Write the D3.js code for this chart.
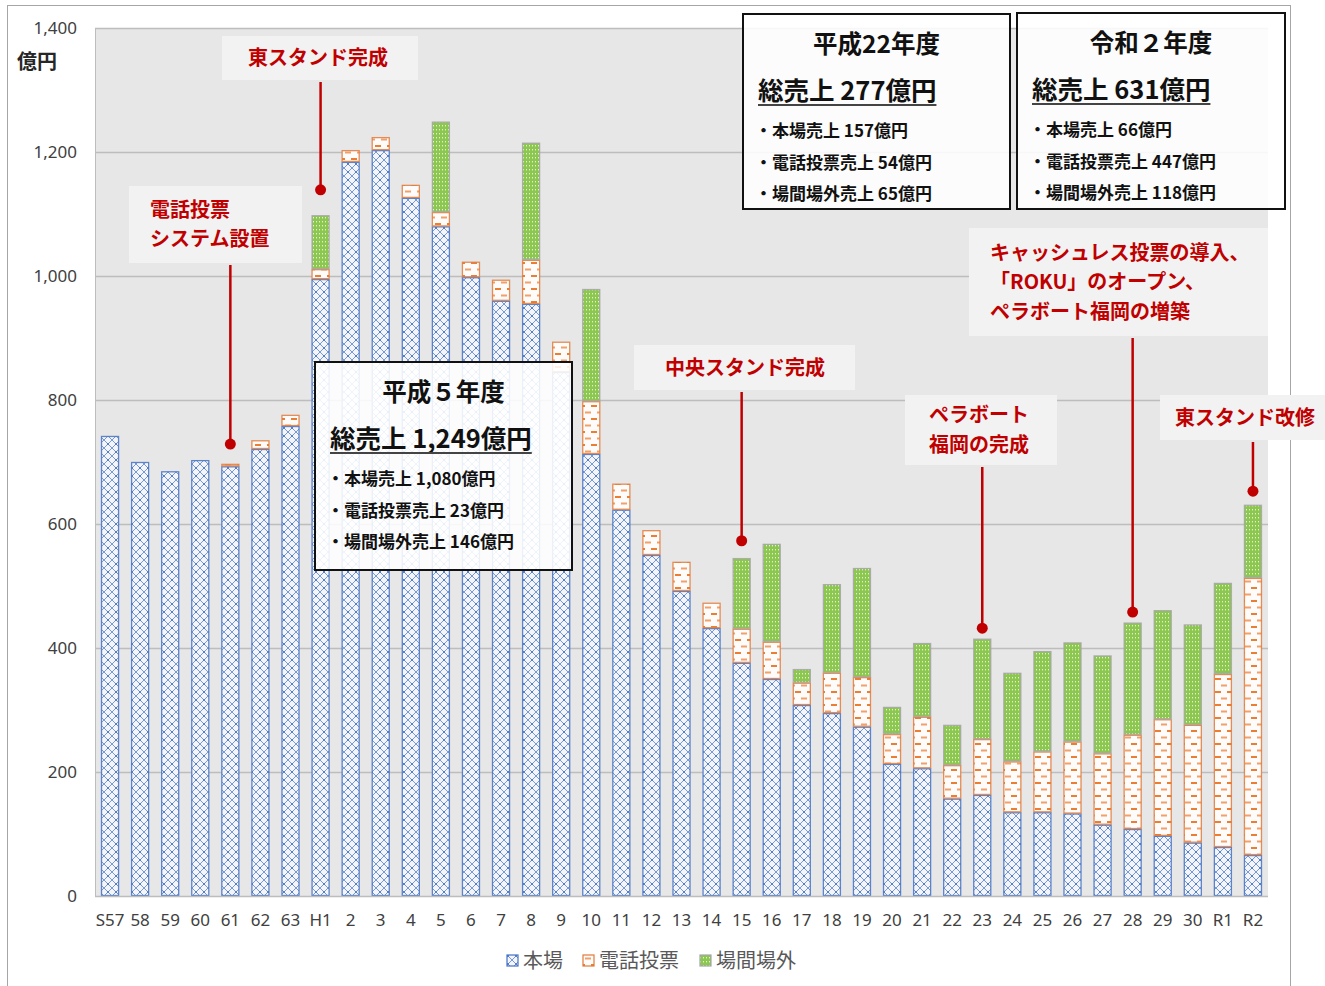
<!DOCTYPE html>
<head>
  <meta charset="utf-8">
  <script src="https://d3js.org/d3.v7.min.js"></script>
  <style>
    body { margin:0; background:#fff; }
    svg { display:block; }
    text { font-family: "Noto Sans CJK JP", "Noto Sans", sans-serif; }
  </style>
</head>

<body>
  <svg width="1325" height="986"></svg>
  <script>
    // 年度
    var categories = ['S57','58','59','60','61','62','63','H1','2','3','4','5','6','7','8','9','10',
      '11','12','13','14','15','16','17','18','19','20','21','22','23','24','25','26','27','28','29','30','R1','R2'];
    var tickLabels = categories.slice();

    // 売上（億円）
    var honjo = [742,700,685,703,693,721,758,995,1184,1203,1126,1080,998,960,955,845,713,
      623,550,492,432,376,350,308,295,273,213,206,157,163,135,135,133,115,108,97,86,79,66];
    var denwa = [0,0,0,0,4,14,18,16,19,21,21,23,25,34,71,49,85,
      42,40,47,41,55,60,36,65,80,48,83,54,90,82,98,116,115,152,188,190,279,447];
    var jogai = [0,0,0,0,0,0,0,87,0,0,0,146,0,0,189,0,181,
      0,0,0,0,114,158,22,143,176,44,119,65,162,143,162,160,158,181,176,162,147,118];

    var seriesNames = ['本場', '電話投票', '場間場外'];
    var yTicks = [0, 200, 400, 600, 800, 1000, 1200, 1400];

    // 出来事の注記（棒の上の点）
    var events = [
      {cat: '61', dot: 729, lines: ['電話投票', 'システム設置'], box: [129,186,173,77], tx: 150, align: 'start'},
      {cat: 'H1', dot: 1139, lines: ['東スタンド完成'], box: [222,36,196,44], tx: 318, align: 'middle'},
      {cat: '15', dot: 573, lines: ['中央スタンド完成'], box: [634,345,221,45], tx: 745, align: 'middle'},
      {cat: '23', dot: 432, lines: ['ペラボート', '福岡の完成'], box: [905,395,152,70], tx: 929, align: 'start'},
      {cat: '28', dot: 458, lines: ['キャッシュレス投票の導入、', '「ROKU」のオープン、', 'ペラボート福岡の増築'], box: [969,228,299,108], tx: 990, align: 'start'},
      {cat: 'R2', dot: 653, lines: ['東スタンド改修'], box: [1160,395,165,45], tx: 1175, align: 'start'}
    ];

    // 年度ごとの内訳ボックス
    var infoBoxes = [
      {title: '平成５年度', total: '総売上 1,249億円', items: ['・本場売上 1,080億円', '・電話投票売上 23億円', '・場間場外売上 146億円'], x: 315, y: 362, w: 257, h: 208},
      {title: '平成22年度', total: '総売上 277億円', items: ['・本場売上 157億円', '・電話投票売上 54億円', '・場間場外売上 65億円'], x: 743, y: 14, w: 267, h: 195},
      {title: '令和２年度', total: '総売上 631億円', items: ['・本場売上 66億円', '・電話投票売上 447億円', '・場間場外売上 118億円'], x: 1017, y: 13, w: 268, h: 196}
    ];

    var margin = {top: 28, bottom: 90, left: 95, right: 57};
    var width = 1325, height = 986;
    var svg = d3.select('svg');

    // frame
    svg.append('rect')
      .attr('x', 7.5).attr('y', 5.5).attr('width', 1283).attr('height', 1000)
      .attr('fill', '#fff').attr('stroke', '#a6a6a6');

    // patterns
    var defs = svg.append('defs');
    var p1 = defs.append('pattern').attr('id', 'pHon').attr('patternUnits', 'userSpaceOnUse')
      .attr('width', 8).attr('height', 8);
    p1.append('rect').attr('width', 8).attr('height', 8).attr('fill', '#f4f5f9');
    p1.append('path').attr('d', 'M0,0 L8,8 M8,0 L0,8').attr('stroke', '#6b8fd3')
      .attr('stroke-width', 0.9).attr('fill', 'none');
    p1.append('circle').attr('cx', 4).attr('cy', 4).attr('r', 0.9).attr('fill', '#4472c4');

    var p2 = defs.append('pattern').attr('id', 'pDen').attr('patternUnits', 'userSpaceOnUse')
      .attr('width', 12).attr('height', 13);
    p2.append('rect').attr('width', 12).attr('height', 13).attr('fill', '#fdfcfb');
    p2.append('rect').attr('x', 3).attr('y', 2).attr('width', 6).attr('height', 2).attr('fill', '#ed7d31');
    p2.append('rect').attr('x', -3).attr('y', 8.5).attr('width', 6).attr('height', 2).attr('fill', '#f2a06a');
    p2.append('rect').attr('x', 9).attr('y', 8.5).attr('width', 6).attr('height', 2).attr('fill', '#f2a06a');

    var p3 = defs.append('pattern').attr('id', 'pJo').attr('patternUnits', 'userSpaceOnUse')
      .attr('width', 3).attr('height', 4);
    p3.append('rect').attr('width', 3).attr('height', 4).attr('fill', '#8cc850');
    p3.append('rect').attr('x', 1).attr('y', 1).attr('width', 1).attr('height', 1.4).attr('fill', '#e4f3d4');

    var fills = ['url(#pHon)', 'url(#pDen)', 'url(#pJo)'];
    var strokes = ['#4472c4', '#e07a3a', '#a5a5a5'];

    var xScale = d3.scaleBand()
      .domain(categories)
      .range([margin.left, width - margin.right])
      .paddingInner(0.4)
      .paddingOuter(0.2);

    var yScale = d3.scaleLinear()
      .domain([0, 1400])
      .range([height - margin.bottom, margin.top]);

    // plot area
    svg.append('rect')
      .attr('x', margin.left).attr('y', margin.top)
      .attr('width', width - margin.right - margin.left)
      .attr('height', yScale(0) - margin.top)
      .attr('fill', '#e7e7e7');

    // grid
    svg.append('g').selectAll('line')
      .data(yTicks.filter(function(d) { return d > 0; }))
      .enter().append('line')
      .attr('x1', margin.left).attr('x2', width - margin.right)
      .attr('y1', function(d) { return yScale(d) + 0.5; })
      .attr('y2', function(d) { return yScale(d) + 0.5; })
      .attr('stroke', '#bdbdbd').attr('stroke-width', 1.3);

    svg.append('line')
      .attr('x1', margin.left + 0.5).attr('x2', margin.left + 0.5)
      .attr('y1', margin.top).attr('y2', yScale(0))
      .attr('stroke', '#bdbdbd');

    // stacked bars
    var rows = categories.map(function(c, i) {
      return {cat: c, '本場': honjo[i], '電話投票': denwa[i], '場間場外': jogai[i]};
    });
    var stacked = d3.stack().keys(seriesNames)(rows);

    stacked.forEach(function(layer, k) {
      svg.append('g').selectAll('rect')
        .data(layer.filter(function(d) { return d[1] - d[0] > 0; }))
        .enter().append('rect')
        .attr('x', function(d) { return xScale(d.data.cat) + 0.5; })
        .attr('y', function(d) { return yScale(d[1]) + 0.5; })
        .attr('width', xScale.bandwidth() - 1)
        .attr('height', function(d) { return Math.max(0, yScale(d[0]) - yScale(d[1]) - 1); })
        .attr('fill', fills[k])
        .attr('stroke', strokes[k])
        .attr('stroke-opacity', 0.85)
        .attr('stroke-width', 1.3);
    });

    // x axis baseline
    svg.append('line')
      .attr('x1', margin.left).attr('x2', width - margin.right)
      .attr('y1', yScale(0) + 0.5).attr('y2', yScale(0) + 0.5)
      .attr('stroke', '#bdbdbd').attr('stroke-width', 1.5);

    // axes
    var xAxis = d3.axisBottom(xScale).tickSize(0).tickPadding(18)
      .tickFormat(function(d, i) { return tickLabels[i]; });
    var gx = svg.append('g')
      .attr('transform', 'translate(0,' + yScale(0) + ')')
      .call(xAxis);
    gx.select('.domain').remove();
    gx.selectAll('text').attr('font-size', 17).attr('fill', '#404040')
      .style('font-family', '"Noto Sans", sans-serif');

    var yAxis = d3.axisLeft(yScale).tickValues(yTicks).tickSize(0).tickPadding(18)
      .tickFormat(d3.format(','));
    var gy = svg.append('g')
      .attr('transform', 'translate(' + margin.left + ',0)')
      .call(yAxis);
    gy.select('.domain').remove();
    gy.selectAll('text').attr('font-size', 17).attr('fill', '#404040')
      .style('font-family', '"Noto Sans", sans-serif');

    svg.append('text').attr('x', 17).attr('y', 69)
      .attr('font-size', 20).attr('font-weight', 'bold').attr('fill', '#262626')
      .text('億円');

    // event annotations
    events.forEach(function(e) {
      var cx = xScale(e.cat) + xScale.bandwidth() / 2;
      var g = svg.append('g');
      g.append('rect')
        .attr('x', e.box[0]).attr('y', e.box[1]).attr('width', e.box[2]).attr('height', e.box[3])
        .attr('fill', '#f2f2f2');
      g.append('line')
        .attr('x1', cx).attr('x2', cx)
        .attr('y1', e.box[1] + e.box[3] + 2).attr('y2', yScale(e.dot))
        .attr('stroke', '#c00000').attr('stroke-width', 2.5);
      g.append('circle').attr('cx', cx).attr('cy', yScale(e.dot)).attr('r', 5.5).attr('fill', '#c00000');
      var n = e.lines.length;
      var lineGap = 29.5;
      e.lines.forEach(function(t, i) {
        g.append('text')
          .attr('x', e.tx)
          .attr('y', e.box[1] + e.box[3] / 2 + (i - (n - 1) / 2) * lineGap)
          .attr('dy', '0.36em')
          .attr('text-anchor', e.align)
          .attr('font-size', 20).attr('font-weight', 'bold').attr('fill', '#c00000')
          .text(t);
      });
    });

    // info boxes
    infoBoxes.forEach(function(b) {
      var g = svg.append('g');
      g.append('rect')
        .attr('x', b.x).attr('y', b.y).attr('width', b.w).attr('height', b.h)
        .attr('fill', '#fff').attr('fill-opacity', 0.88)
        .attr('stroke', '#111').attr('stroke-width', 2);
      g.append('text').attr('x', b.x + b.w / 2).attr('y', b.y + 30)
        .attr('dy', '0.36em').attr('text-anchor', 'middle')
        .attr('font-size', 24.5).attr('font-weight', 'bold').attr('fill', '#111')
        .text(b.title);
      var tt = g.append('text').attr('x', b.x + 15).attr('y', b.y + 77)
        .attr('dy', '0.36em')
        .attr('font-size', 25.5).attr('font-weight', 'bold').attr('fill', '#111')
        .text(b.total);
      var tw = tt.node().getComputedTextLength();
      g.append('line')
        .attr('x1', b.x + 15).attr('x2', b.x + 15 + tw)
        .attr('y1', b.y + 91).attr('y2', b.y + 91)
        .attr('stroke', '#444').attr('stroke-width', 2);
      b.items.forEach(function(t, i) {
        g.append('text').attr('x', b.x + 12).attr('y', b.y + 117 + i * 31.5)
          .attr('dy', '0.36em')
          .attr('font-size', 17).attr('font-weight', 'bold').attr('fill', '#111')
          .text(t);
      });
    });

    // legend
    var legendX = [507, 583, 700];
    var lg = svg.append('g');
    seriesNames.forEach(function(s, i) {
      lg.append('rect')
        .attr('x', legendX[i]).attr('y', 955).attr('width', 11).attr('height', 11)
        .attr('fill', fills[i]).attr('stroke', strokes[i]).attr('stroke-width', 1.2);
      lg.append('text')
        .attr('x', legendX[i] + 16).attr('y', 961).attr('dy', '0.36em')
        .attr('font-size', 20).attr('fill', '#595959')
        .text(s);
    });
  </script>
</body>
